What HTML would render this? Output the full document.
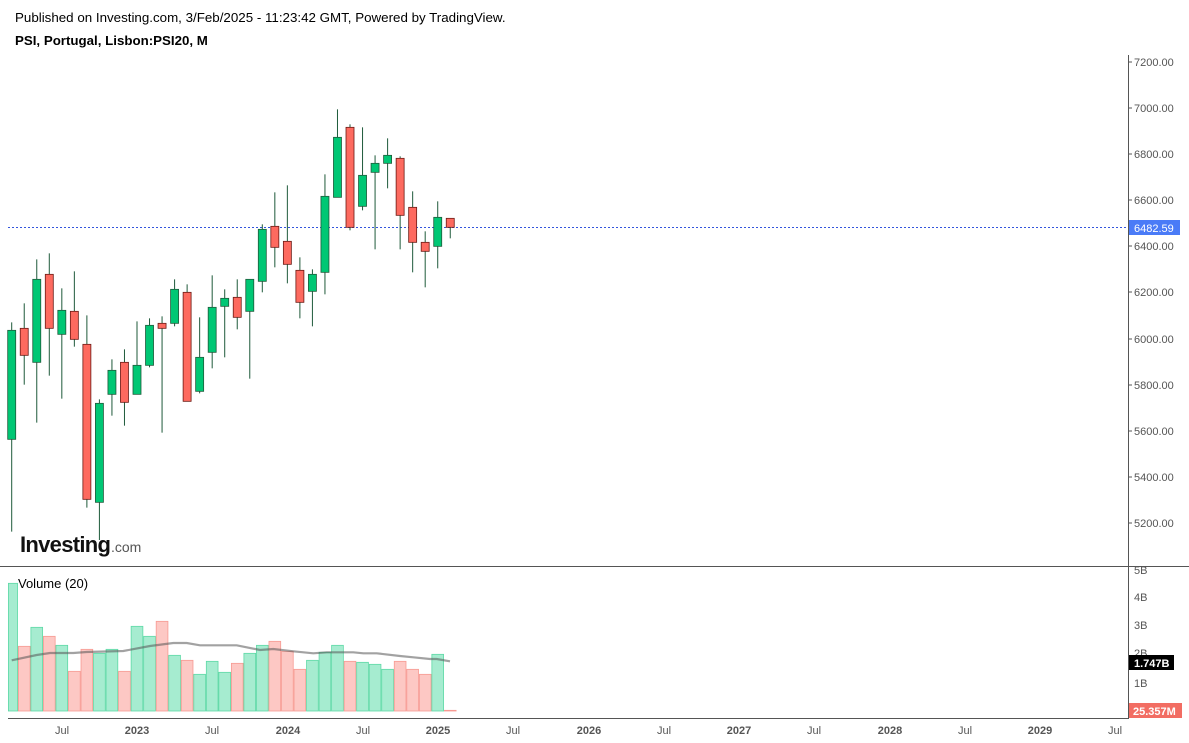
<!DOCTYPE html>
<html><head><meta charset="utf-8"><style>
html,body{margin:0;padding:0;background:#fff;width:1189px;height:743px;overflow:hidden;font-family:"Liberation Sans",Arial,sans-serif}
svg{position:absolute;left:0;top:0}
</style></head><body>
<svg id="s" width="1189" height="743" xmlns="http://www.w3.org/2000/svg" font-family="Liberation Sans, Arial, sans-serif">
<text x="15" y="22" font-size="13.35" fill="#000">Published on Investing.com, 3/Feb/2025 - 11:23:42 GMT, Powered by TradingView.</text>
<text x="15" y="45" font-size="13.3" font-weight="bold" fill="#000">PSI, Portugal, Lisbon:PSI20, M</text>
<line x1="1128.5" y1="55" x2="1128.5" y2="719" stroke="#555" stroke-width="1"/>
<line x1="0" y1="566.5" x2="1189" y2="566.5" stroke="#555" stroke-width="1"/>
<line x1="8" y1="718.5" x2="1128" y2="718.5" stroke="#555" stroke-width="1"/>
<line x1="8" y1="227.5" x2="1128" y2="227.5" stroke="#3355dd" stroke-width="1" stroke-dasharray="2,2"/>
<g id="c"></g>
<g id="v"></g>
<polyline fill="none" stroke="#555" stroke-opacity="0.55" stroke-width="2.2" points="11.7,660.3 36.7,655 50,653 73.3,653 86.7,652 123.3,651 150,646 173.3,643 186.7,643 200,645.3 236.7,645.3 260,650 273.3,649 293.3,651.3 313.3,653.3 326.7,652.3 353.3,652.3 363.3,653.3 376.7,653.3 400,656 413.3,657.3 430,659 436.7,659 450,661.3"/>
<g font-size="11" fill="#555">
<text x="1134" y="66">7200.00</text><text x="1134" y="112">7000.00</text><text x="1134" y="158">6800.00</text><text x="1134" y="204">6600.00</text><text x="1134" y="250">6400.00</text><text x="1134" y="296">6200.00</text><text x="1134" y="343">6000.00</text><text x="1134" y="389">5800.00</text><text x="1134" y="435">5600.00</text><text x="1134" y="481">5400.00</text><text x="1134" y="527">5200.00</text>
<text x="1134" y="574">5B</text><text x="1134" y="601">4B</text><text x="1134" y="629">3B</text><text x="1134" y="657">2B</text><text x="1134" y="687">1B</text>
</g>
<g stroke="#555">
<line x1="1128" y1="62" x2="1132" y2="62"/><line x1="1128" y1="108" x2="1132" y2="108"/><line x1="1128" y1="154" x2="1132" y2="154"/><line x1="1128" y1="200" x2="1132" y2="200"/><line x1="1128" y1="246" x2="1132" y2="246"/><line x1="1128" y1="292" x2="1132" y2="292"/><line x1="1128" y1="339" x2="1132" y2="339"/><line x1="1128" y1="385" x2="1132" y2="385"/><line x1="1128" y1="431" x2="1132" y2="431"/><line x1="1128" y1="477" x2="1132" y2="477"/><line x1="1128" y1="523" x2="1132" y2="523"/>
</g>
<rect x="1129" y="220" width="51" height="15" fill="#4a7bf7"/>
<text x="1134" y="232" font-size="11" fill="#fff">6482.59</text>
<rect x="1129" y="655" width="45" height="15" fill="#000"/>
<text x="1134" y="667" font-size="11" font-weight="bold" fill="#fff">1.747B</text>
<rect x="1129" y="703" width="53" height="15" fill="#f26d63"/>
<text x="1133" y="715" font-size="11" font-weight="bold" fill="#fff">25.357M</text>
<text x="18" y="588" font-size="13" fill="#000">Volume (20)</text>
<g font-size="11" fill="#555" text-anchor="middle">
<text x="62" y="734">Jul</text><text x="137" y="734" font-weight="bold">2023</text><text x="212" y="734">Jul</text><text x="288" y="734" font-weight="bold">2024</text><text x="363" y="734">Jul</text><text x="438" y="734" font-weight="bold">2025</text><text x="513" y="734">Jul</text><text x="589" y="734" font-weight="bold">2026</text><text x="664" y="734">Jul</text><text x="739" y="734" font-weight="bold">2027</text><text x="814" y="734">Jul</text><text x="890" y="734" font-weight="bold">2028</text><text x="965" y="734">Jul</text><text x="1040" y="734" font-weight="bold">2029</text><text x="1115" y="734">Jul</text>
</g>
<text x="20" y="552" font-size="22" font-weight="bold" fill="#111" letter-spacing="-0.7">Investing</text>
<text x="111" y="552" font-size="14" fill="#555">.com</text>
</svg>
<script>
var C=[
['G',697,1325,721,1048],['R',640,884,715,796],['G',508,998,568,817],['R',490,857,553,715],['G',595,926,661,733],['R',544,770,664,748],['R',676,1253,763,1228],['G',928,1350,940,1237],['G',808,977,841,913],['R',778,1007,817,937],['G',694,913,826,913],['G',685,832,706,826],['R',679,1028,700,715],['G',568,709,598,700],['R',583,934,607,934],['G',682,910,802,904],['G',556,835,652,787],['G',598,802,625,649],['R',568,718,622,682],['G',568,866,568,664],['G',403,607,418,574],['R',307,532,409,472],['R',286,580,454,523],['R',502,685,541,637],['G',538,709,553,604],['G',253,613,319,547],['G',58,322,142,322],['R',103,421,112,412],['G',112,361,256,349],['G',196,478,220,247],['G',145,295,196,220],['R',199,478,205,376],['R',304,547,352,457],['R',424,592,457,484],['G',334,535,382,469],['R',385,445,385,412]];
var V=[[70,'G'],[259,'R'],[202,'G'],[229,'R'],[256,'G'],[334,'R'],[268,'R'],[280,'G'],[268,'G'],[334,'R'],[199,'G'],[229,'G'],[184,'R'],[286,'G'],[301,'R'],[343,'G'],[304,'G'],[337,'G'],[310,'R'],[280,'G'],[256,'G'],[244,'R'],[274,'R'],[328,'R'],[301,'G'],[277,'G'],[256,'G'],[304,'R'],[307,'G'],[313,'G'],[328,'G'],[304,'R'],[328,'R'],[343,'R'],[283,'G'],[451,'R']];
var ns='http://www.w3.org/2000/svg',c=document.getElementById('c'),v=document.getElementById('v');
function el(p,t,a){var e=document.createElementNS(ns,t);for(var k in a)e.setAttribute(k,a[k]);p.appendChild(e);return e;}
for(var i=0;i<C.length;i++){var d=C[i],x=11.7+12.53*i,y=function(q){return 90+q/3;};
el(c,'line',{x1:x,x2:x,y1:y(d[1]),y2:y(d[2]),stroke:'#1e5a3a','stroke-width':1});
var g=d[0]=='G';el(c,'rect',{x:x-4,y:y(d[3]),width:8,height:Math.max(1,y(d[4])-y(d[3])),fill:g?'#00c774':'#fd6a5f',stroke:g?'#1e5a3a':'#6b1a14','stroke-width':0.8});}
for(var i=0;i<V.length;i++){var x=11.7+12.53*i,l=Math.max(8,x-6.26),r=x+6.26,t=560+V[i][0]/3,g=V[i][1]=='G';
el(v,'rect',{x:l+0.4,y:t,width:r-l-0.8,height:711-t,fill:g?'#a6ecd0':'#fdc8c4',stroke:g?'#5ed9a6':'#f79a92','stroke-width':0.8});}
</script>
</body></html>
